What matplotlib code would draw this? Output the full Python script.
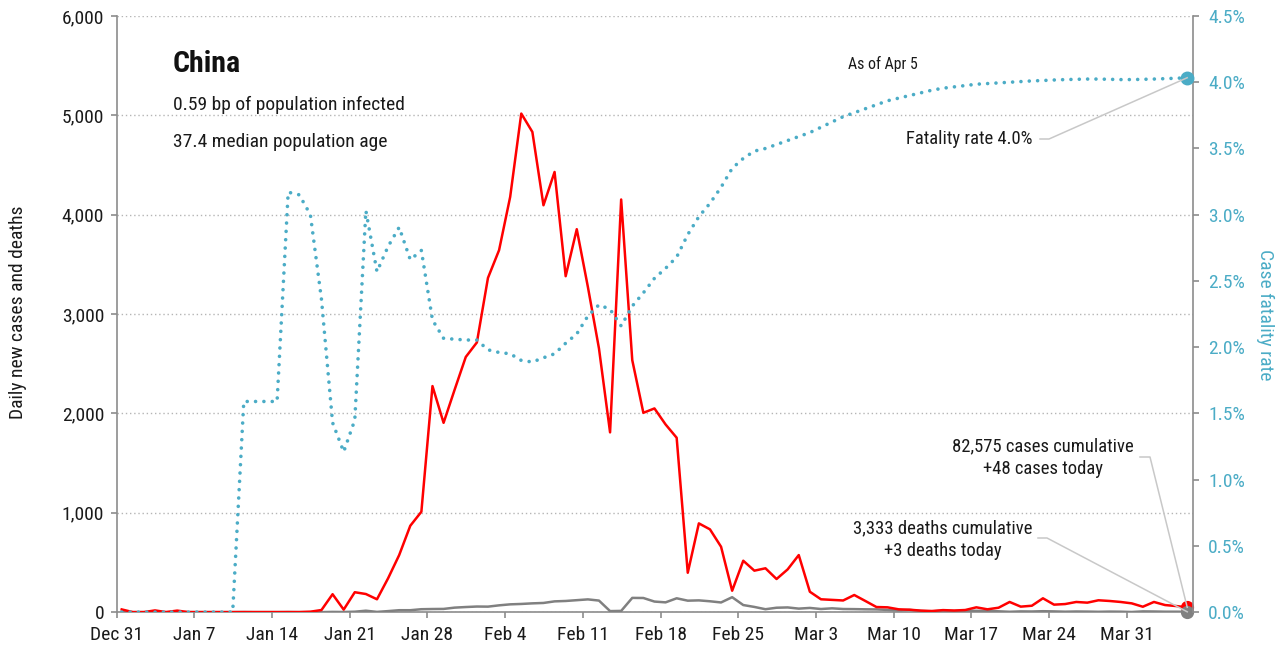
import matplotlib
matplotlib.use('Agg')
import matplotlib.pyplot as plt
from matplotlib import font_manager
from matplotlib.lines import Line2D
import numpy as np

# pick a narrow family if one is installed
names = {f.name for f in font_manager.fontManager.ttflist}
narrow = None
for cand in ['Roboto Condensed', 'Liberation Sans Narrow', 'DejaVu Sans Condensed', 'Open Sans Condensed']:
    if cand in names:
        narrow = cand
        break
plt.rcParams['font.family'] = ([narrow] if narrow else []) + ['Liberation Sans', 'DejaVu Sans']
k = 1.0 if narrow else 0.82

# data, one value per day from Dec 31 to Apr 5
tick_labels = ['Dec 31', 'Jan 7', 'Jan 14', 'Jan 21', 'Jan 28', 'Feb 4', 'Feb 11',
               'Feb 18', 'Feb 25', 'Mar 3', 'Mar 10', 'Mar 17', 'Mar 24', 'Mar 31']

cases = [27, 0, 0, 17, 0, 15, 0, 0, 0, 0, 0, 0, 0, 0, 0, 0, 0, 4, 21, 180,
         25, 200, 182, 129, 340, 574, 869, 1010, 2275, 1905, 2240, 2568,
         2714, 3364, 3643, 4179, 5018, 4833, 4095, 4430, 3381, 3854, 3274, 2654,
         1809, 4153, 2536, 2006, 2050, 1889, 1755, 396, 893, 833, 658, 215,
         517, 417, 441, 333, 430, 574, 205, 129, 123, 117, 172, 112, 51, 48,
         28, 24, 15, 11, 20, 16, 21, 48, 28, 44, 102, 55, 64, 139, 75, 81,
         102, 95, 119, 112, 102, 88, 54, 102, 71, 61, 48]

deaths = [0, 0, 0, 0, 0, 0, 0, 0, 0, 0, 0, 1, 0, 0, 0, 1, 0, 0, 0, 2,
          1, 4, 14, 2, 10, 19, 19, 29, 31, 32, 45, 51,
          56, 55, 68, 78, 82, 88, 92, 108, 112, 120, 128, 116,
          10, 12, 143, 142, 106, 98, 139, 115, 118, 109, 97, 150,
          71, 52, 29, 44, 47, 35, 42, 31, 38, 31, 30, 28, 27, 22,
          17, 22, 11, 7, 13, 10, 14, 13, 11, 8, 3, 7, 6, 9, 7, 4,
          6, 5, 3, 5, 4, 1, 7, 6, 4, 4, 3]

fatality = [0, 0, 0, 0, 0, 0, 0, 0, 0, 0, 0, 1.59, 1.59, 1.59, 1.59, 3.17, 3.15, 3.0, 2.36, 1.43,
            1.21, 1.45, 3.03, 2.57, 2.76, 2.905, 2.66, 2.73, 2.205, 2.067, 2.06, 2.054,
            2.054, 1.98, 1.96, 1.95, 1.90, 1.888, 1.92, 1.95, 2.03, 2.10, 2.235, 2.32,
            2.286, 2.16, 2.31, 2.41, 2.52, 2.595, 2.68, 2.85, 2.985, 3.086, 3.207, 3.35,
            3.425, 3.48, 3.50, 3.53, 3.56, 3.59, 3.62, 3.66, 3.70, 3.74, 3.77, 3.80, 3.83, 3.86,
            3.88, 3.90, 3.92, 3.94, 3.955, 3.965, 3.975, 3.985, 3.99, 3.995, 4.00, 4.005, 4.01, 4.013, 4.017, 4.02,
            4.022, 4.024, 4.024, 4.022, 4.02, 4.02, 4.022, 4.024, 4.027, 4.03, 4.034]

days = np.arange(len(cases)) + 0.45

W, H = 1283, 651
def fx(x):
    return x / W
def fy(y):
    return 1 - y / H

teal = '#4bacc6'
grey_axis = '#8c8c8c'
txt = '#1a1a1a'

fig = plt.figure(figsize=(W / 100, H / 100), dpi=100)
ax = fig.add_axes([fx(116.7), fy(612.1), (1193 - 116.7) / W, (612.1 - 16) / H])

ax.plot(days, deaths, color='#808080', lw=1.8, zorder=3)
ax.plot(days, cases, color='#ff0000', lw=1.8, zorder=4)
ax.plot(days[-1], cases[-1], 'o', color='#ff0000', ms=8.5, zorder=5, clip_on=False)
ax.plot(days[-1], deaths[-1], 'o', color='#808080', ms=8.5, zorder=6, clip_on=False)

ax.set_xlim(0, 96.97)
ax.set_ylim(0, 6000)
ax.set_yticks(range(0, 6001, 1000))
ax.set_yticklabels(['{:,}'.format(v) for v in range(0, 6001, 1000)])
ax.set_xticks(range(0, 92, 7))
ax.set_xticklabels(tick_labels)
ax.grid(axis='y', color='#b5b5b5', lw=1, linestyle=(0, (1, 2)))
ax.set_axisbelow(True)
for s in ['top', 'right']:
    ax.spines[s].set_visible(False)
for s in ['left', 'bottom']:
    ax.spines[s].set_color(grey_axis)
    ax.spines[s].set_linewidth(1.2)
ax.tick_params(axis='both', colors=grey_axis, length=4, width=1.2, labelsize=14 * k,
               labelcolor=txt)
ax.tick_params(axis='x', pad=6)
ax.tick_params(axis='y', pad=5)

ax2 = ax.twinx()
ax2.plot(days, fatality, color=teal, lw=2.6, linestyle=(0, (0.01, 2.3)),
         dash_capstyle='round', solid_capstyle='round', zorder=3)
ax2.plot(days[-1], fatality[-1], 'o', color=teal, ms=9, zorder=5, clip_on=False)
ax2.set_ylim(0, 4.5)
ax2.set_yticks(np.arange(0, 4.51, 0.5))
ax2.set_yticklabels(['{:.1f}%'.format(v) for v in np.arange(0, 4.51, 0.5)])
for s in ['top', 'left', 'bottom']:
    ax2.spines[s].set_visible(False)
ax2.spines['right'].set_color(grey_axis)
ax2.spines['right'].set_linewidth(1.2)
ax2.tick_params(axis='y', colors=grey_axis, length=4, width=1.2, labelsize=14 * k,
                labelcolor=teal, pad=7)

fig.text(fx(18), fy(312), 'Daily new cases and deaths', rotation=90, ha='center',
         va='center', fontsize=14 * k, color=txt)
fig.text(fx(1265), fy(315), 'Case fatality rate', rotation=270, ha='center',
         va='center', fontsize=14 * k, color=teal)

# header
fig.text(fx(173), fy(71.5), 'China', fontsize=21.5 * k, fontweight='bold', color='#111111',
         va='baseline')
fig.text(fx(173), fy(110), '0.59 bp of population infected', fontsize=14 * k,
         color=txt, va='baseline')
fig.text(fx(173), fy(146.7), '37.4 median population age', fontsize=14 * k,
         color=txt, va='baseline')
fig.text(fx(848), fy(64), 'As of Apr 5', fontsize=11.4 * k, color=txt, va='center')

# callouts
fig.text(fx(1033), fy(139), 'Fatality rate 4.0%', fontsize=13.4 * k, color=txt,
         ha='right', va='center')
fig.text(fx(1043), fy(457.5), '82,575 cases cumulative\n+48 cases today', fontsize=13.4 * k,
         color=txt, ha='center', va='center', linespacing=1.35)
fig.text(fx(943), fy(539.5), '3,333 deaths cumulative\n+3 deaths today', fontsize=13.4 * k,
         color=txt, ha='center', va='center', linespacing=1.35)

def to_fig(a, x, y):
    return fig.transFigure.inverted().transform(a.transData.transform((x, y)))

leaders = [((1040, 139), (1049, 139), to_fig(ax2, days[-1], fatality[-1])),
           ((1140, 457), (1150, 457), to_fig(ax, days[-1], cases[-1])),
           ((1038, 538), (1047, 538), to_fig(ax, days[-1], deaths[-1]))]
for p0, p1, end in leaders:
    fig.add_artist(Line2D([fx(p0[0]), fx(p1[0]), end[0]], [fy(p0[1]), fy(p1[1]), end[1]],
                          transform=fig.transFigure, color='#c8c8c8', lw=1.1, zorder=1))

fig.savefig('out.png', dpi=100)
